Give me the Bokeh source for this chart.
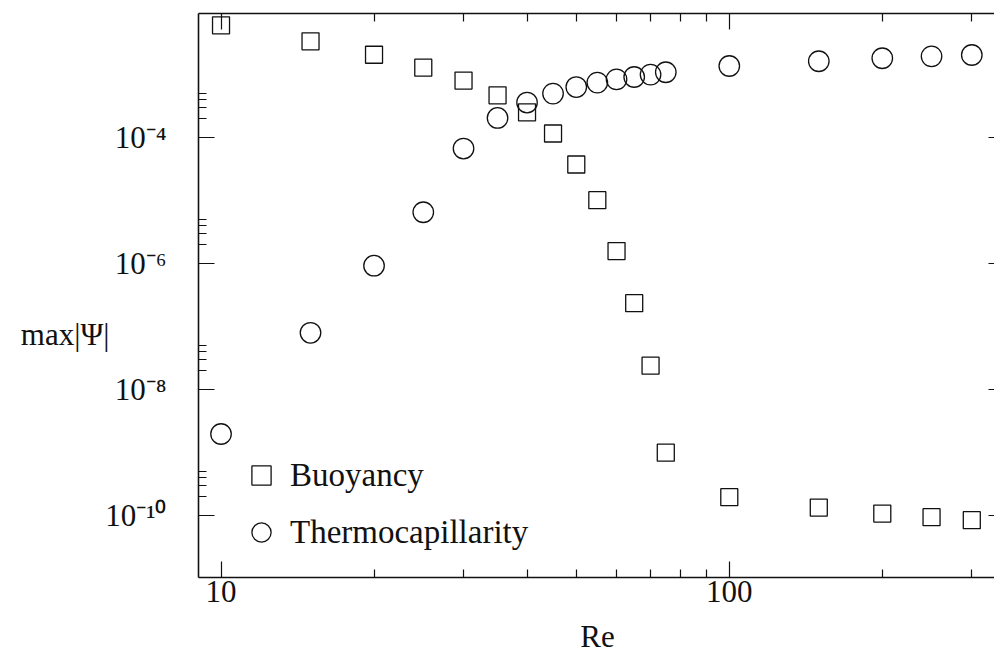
from bokeh.plotting import figure
from bokeh.models import (Range1d, LogAxis, FixedTicker, CustomJSTickFormatter,
                          BasicTickFormatter, Label, Legend, LegendItem)
from bokeh.embed import file_html
from bokeh.resources import INLINE

# ---- data ----
re_values = [10, 15, 20, 25, 30, 35, 40, 45, 50, 55, 60, 65, 70, 75,
             100, 150, 200, 250, 300]
buoyancy = [6.07e-3, 3.38e-3, 2.07e-3, 1.29e-3, 8.03e-4, 4.69e-4, 2.52e-4,
            1.16e-4, 3.73e-5, 1.01e-5, 1.57e-6, 2.34e-7, 2.37e-8, 9.86e-10,
            1.93e-10, 1.32e-10, 1.06e-10, 9.29e-11, 8.33e-11]
thermocap = [1.95e-9, 7.9e-8, 9.2e-7, 6.5e-6, 6.68e-5, 2.05e-4, 3.6e-4,
             4.99e-4, 6.35e-4, 7.47e-4, 8.41e-4, 9.16e-4, 1.0e-3, 1.09e-3,
             1.37e-3, 1.63e-3, 1.82e-3, 1.95e-3, 2.05e-3]
series_names = ["Buoyancy", "Thermocapillarity"]
x_major = [10, 100]
x_minor = [20, 30, 40, 50, 60, 70, 80, 90, 200, 300]
y_major = [1e-10, 1e-8, 1e-6, 1e-4]
y_minor = [m * t for t in y_major for m in (2, 3, 4, 5)]
x_title = "Re"
y_title = "max|Ψ|"

FONT = "Liberation Serif"
FS = "31px"
INK = "#111111"

p = figure(width=994, height=653, x_axis_type="log", y_axis_type="log",
           x_range=Range1d(9.03, 332.5), y_range=Range1d(10**-10.99, 10**-2.029),
           output_backend="svg", toolbar_location=None,
           min_border_left=198, min_border_right=0, min_border_top=13,
           min_border_bottom=76)
p.outline_line_color = None
p.xgrid.visible = False
p.ygrid.visible = False
p.background_fill_color = "white"
p.border_fill_color = "white"

sup_fmt = CustomJSTickFormatter(code="""
const sup = {"-":"\u207b","0":"\u2070","1":"\u00b9","2":"\u00b2","3":"\u00b3",
             "4":"\u2074","5":"\u2075","6":"\u2076","7":"\u2077","8":"\u2078","9":"\u2079"};
const e = Math.round(Math.log10(tick));
return "10" + String(e).split("").map(c => sup[c]).join("");
""")
blank_fmt = CustomJSTickFormatter(code="return '';")

def style(ax, major, minor, labels=True, major_in=16, minor_in=8, line=True):
    ax.ticker = FixedTicker(ticks=major, minor_ticks=minor)
    ax.major_tick_in = major_in
    ax.major_tick_out = 0
    ax.minor_tick_in = minor_in
    ax.minor_tick_out = 0
    ax.major_tick_line_color = INK
    ax.minor_tick_line_color = INK
    ax.major_tick_line_width = 1.2
    ax.minor_tick_line_width = 1.2
    ax.axis_line_color = INK if line else None
    ax.axis_line_width = 1.6
    if labels:
        ax.major_label_text_font = FONT
        ax.major_label_text_font_size = FS
        ax.major_label_text_color = INK
    else:
        ax.formatter = blank_fmt
        ax.major_label_text_font_size = "1px"
        ax.major_label_standoff = 0

# bottom
xb = p.xaxis[0]
style(xb, x_major, x_minor)
xb.formatter = BasicTickFormatter()
xb.major_label_standoff = 3
# left
yl = p.yaxis[0]
style(yl, y_major, y_minor)
yl.formatter = sup_fmt
yl.major_label_standoff = 32

# top
xt = LogAxis()
style(xt, x_major, x_minor, labels=False)
p.add_layout(xt, "above")
# right
yr = LogAxis()
style(yr, y_major, [], labels=False, major_in=6, line=False)
p.add_layout(yr, "right")

r1 = p.scatter(re_values, buoyancy, marker="square", size=17,
               fill_color=None, line_color=INK, line_width=1.3)
r2 = p.scatter(re_values, thermocap, marker="circle", size=20.5,
               fill_color=None, line_color=INK, line_width=1.3)

legend = Legend(items=[LegendItem(label=series_names[0], renderers=[r1]),
                       LegendItem(label=series_names[1], renderers=[r2])],
                location=(39, 21), glyph_width=48, glyph_height=48,
                label_standoff=5, spacing=9, padding=0, margin=0,
                border_line_color=None, background_fill_alpha=0,
                label_text_font=FONT, label_text_font_size="33px",
                label_text_color=INK)
p.add_layout(legend)

# axis titles (kept horizontal, as in the reference)
p.add_layout(Label(x=96, y=243, x_units="screen", y_units="screen",
                   text=y_title, text_align="right", text_baseline="alphabetic",
                   text_font=FONT, text_font_size=FS, text_color=INK), "left")
p.add_layout(Label(x=399, y=3, x_units="screen", y_units="screen",
                   text=x_title, text_align="center", text_baseline="alphabetic",
                   text_font=FONT, text_font_size=FS, text_color=INK), "below")

open("out.html", "w").write(file_html(p, INLINE))
